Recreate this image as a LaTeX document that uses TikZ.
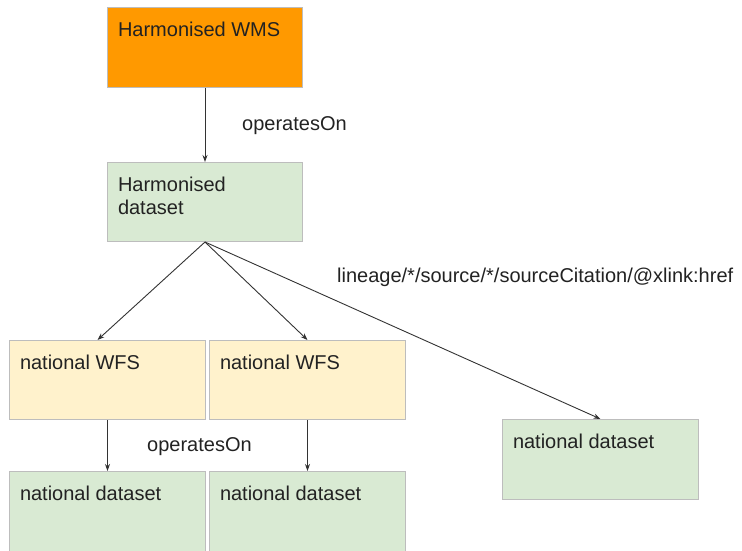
\documentclass[tikz,border=0pt]{standalone}
\usepackage{fontspec}
\setmainfont{Liberation Sans}
\usetikzlibrary{arrows.meta}
\definecolor{orangebox}{HTML}{FF9900}
\definecolor{greenbox}{HTML}{D9EAD3}
\definecolor{yellowbox}{HTML}{FFF2CC}
\definecolor{boxline}{HTML}{BDBDBD}
\definecolor{txt}{HTML}{222222}
\definecolor{conn}{HTML}{333333}
\tikzset{
  box/.style={draw=boxline, line width=1pt, rectangle, anchor=north west,
    inner xsep=10.5pt, inner ysep=15pt, text=txt,
    font=\fontsize{20}{23}\selectfont},
  orangefill/.style={box, fill=orangebox},
  greenfill/.style={box, fill=greenbox},
  yellowfill/.style={box, fill=yellowbox},
  conn/.style={draw=conn, line width=0.9pt, -{Stealth[length=7pt,width=5pt]}},
  lbl/.style={anchor=base west, inner sep=0pt, text=txt, font=\fontsize{20}{23}\selectfont}
}
\newcommand{\boxtext}[2]{\parbox[t][#1][t]{175pt}{#2}}
\begin{document}
\begin{tikzpicture}[x=1pt, y=-1pt]
\useasboundingbox (0,0) rectangle (742,551);
\node[orangefill] (wms) at (107,7) {\parbox[t][50pt][t]{174pt}{Harmonised WMS}};
\node[greenfill] (hds) at (107,162) {\parbox[t][49pt][t]{174pt}{Harmonised\\dataset}};
\node[yellowfill] (wfs1) at (9,340) {\boxtext{49pt}{national WFS}};
\node[yellowfill] (wfs2) at (209,340) {\boxtext{49pt}{national WFS}};
\node[greenfill] (nd1) at (9,471) {\boxtext{52pt}{national dataset}};
\node[greenfill] (nd2) at (209,471) {\boxtext{52pt}{national dataset}};
\node[greenfill] (nd3) at (502,419) {\boxtext{50pt}{national dataset}};

\draw[conn] (wms.south) -- (hds.north);
\draw[conn] (hds.south) -- ([xshift=-10pt]wfs1.north);
\draw[conn] (hds.south) -- (wfs2.north);
\draw[conn] (hds.south) -- (nd3.north);
\draw[conn] (wfs1.south) -- (nd1.north);
\draw[conn] (wfs2.south) -- (nd2.north);

\node[lbl] (op1) at (242,130) {operatesOn};
\node[lbl] (op2) at (147,451) {operatesOn};
\node[lbl] (lin) at (337,282) {lineage/*/source/*/sourceCitation/@xlink:href};
\end{tikzpicture}
\end{document}
